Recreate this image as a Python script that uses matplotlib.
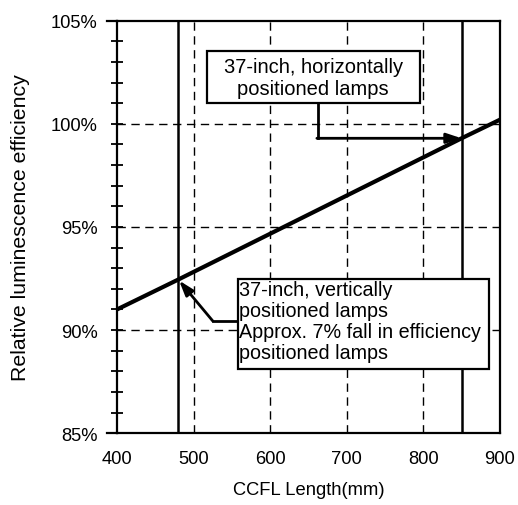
import matplotlib.pyplot as plt
from matplotlib.patches import Rectangle
from matplotlib.ticker import MultipleLocator

plt.rcParams['font.family'] = ['Liberation Sans', 'DejaVu Sans']

# data
ccfl_length = [400, 480, 850, 900]
efficiency = [91.0, 92.45, 99.3, 100.2]
lamp_positions = [480, 850]
y_ticks = [85, 90, 95, 100, 105]
y_labels = ['85%', '90%', '95%', '100%', '105%']
x_ticks = [400, 500, 600, 700, 800, 900]

fig = plt.figure(figsize=(5.18, 5.06), dpi=100)
ax = fig.add_axes([0.226, 0.142, 0.739, 0.815])

ax.set_xlim(400, 900)
ax.set_ylim(85, 105)
ax.set_xticks(x_ticks)
ax.set_yticks(y_ticks)
ax.set_yticklabels(y_labels)
ax.yaxis.set_minor_locator(MultipleLocator(1))
ax.tick_params(axis='y', which='both', direction='inout', length=8, width=1.3,
               labelsize=13.2, pad=10)
ax.tick_params(axis='x', length=0, labelsize=13.2, pad=12)

# grid (dashed)
for gx in [500, 600, 700, 800]:
    ax.axvline(gx, color='black', lw=1, ls=(0, (6, 4)), zorder=1)
for gy in [90, 95, 100]:
    ax.axhline(gy, color='black', lw=1, ls=(0, (6, 4)), zorder=1)

# lamp length markers
for lx in lamp_positions:
    ax.axvline(lx, color='black', lw=1.8, zorder=2)

ax.plot(ccfl_length, efficiency, color='black', lw=3, zorder=3)

for sp in ax.spines.values():
    sp.set_linewidth(1.6)
# top and bottom frame lines run a little past the left axis
for yy in (0, 1):
    ax.plot([-0.025, 0], [yy, yy], transform=ax.transAxes, color='black',
            lw=1.6, clip_on=False)

ax.set_xlabel('CCFL Length(mm)', fontsize=13.2, labelpad=10)
ax.set_ylabel('Relative luminescence efficiency', fontsize=15.3)
ax.yaxis.set_label_coords(-0.228, 0.5)

arrow = dict(arrowstyle='-|>,head_length=0.9,head_width=0.3', color='black',
             lw=2, shrinkA=0, shrinkB=0)

# horizontally positioned annotation
ax.add_patch(Rectangle((517.5, 101.0), 278, 2.55, fc='white', ec='black', lw=1.6, zorder=5))
ax.text(656, 102.27, '37-inch, horizontally\npositioned lamps', ha='center', va='center',
        fontsize=14.5, linespacing=1.2, zorder=6)
ax.plot([662, 662], [101.0, 99.3], color='black', lw=2, zorder=4)
ax.annotate('', xy=(850, 99.3), xytext=(661, 99.3), arrowprops=arrow, zorder=4)

# vertically positioned annotation
ax.add_patch(Rectangle((558, 88.12), 328, 4.37, fc='white', ec='black', lw=1.6, zorder=5))
ax.text(559, 92.42,
        '37-inch, vertically\npositioned lamps\nApprox. 7% fall in efficiency\npositioned lamps',
        ha='left', va='top', fontsize=14.2, linespacing=1.12, zorder=6)
ax.plot([558, 525], [90.44, 90.44], color='black', lw=2, zorder=4)
ax.annotate('', xy=(481, 92.4), xytext=(525, 90.44), arrowprops=arrow, zorder=4)

fig.savefig('out.png', dpi=100)
